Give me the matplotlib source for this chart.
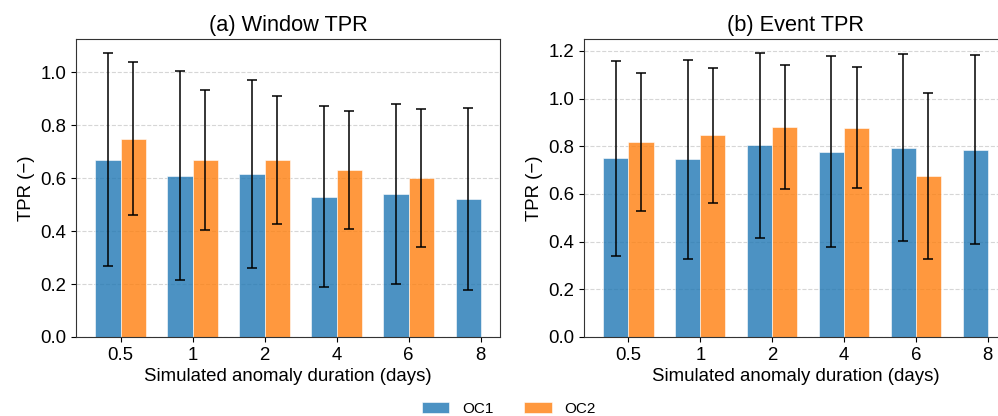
import numpy as np
import matplotlib
matplotlib.use("Agg")
import matplotlib.pyplot as plt

plt.rcParams["font.family"] = ["Liberation Sans", "DejaVu Sans"]

durations = ["0.5", "1", "2", "4", "6", "8"]

# (a) Window TPR: mean and std
win_oc1 = [0.669, 0.609, 0.615, 0.530, 0.540, 0.522]
win_oc1_sd = [0.402, 0.394, 0.355, 0.343, 0.340, 0.343]
win_oc2 = [0.748, 0.669, 0.669, 0.632, 0.600, np.nan]
win_oc2_sd = [0.289, 0.265, 0.242, 0.223, 0.261, np.nan]

# (b) Event TPR
evt_oc1 = [0.750, 0.745, 0.803, 0.777, 0.794, 0.786]
evt_oc1_sd = [0.409, 0.417, 0.386, 0.401, 0.392, 0.395]
evt_oc2 = [0.818, 0.845, 0.880, 0.878, 0.676, np.nan]
evt_oc2_sd = [0.290, 0.282, 0.259, 0.254, 0.349, np.nan]

c1 = "#1f77b4"
c2 = "#ff7f0e"
width = 0.35

fig = plt.figure(figsize=(9.98, 4.16), dpi=100)
ax_a = fig.add_axes([0.0762, 0.19, 0.4248, 0.7156])
ax_b = fig.add_axes([0.5852, 0.19, 0.4238, 0.7156])


def draw(ax, m1, s1, m2, s2, title):
    x = np.arange(len(durations))
    err = dict(ecolor="black", elinewidth=1.1, capsize=3.5, capthick=1.1)
    ax.bar(x - width / 2, m1, width, yerr=s1, color=c1, alpha=0.8,
           edgecolor="white", linewidth=0.5, error_kw=err, label="OC1")
    ax.bar(x + width / 2, m2, width, yerr=s2, color=c2, alpha=0.8,
           edgecolor="white", linewidth=0.5, error_kw=err, label="OC2")
    ax.set_xticks(x)
    ax.set_xticklabels(durations)
    ax.set_xlabel("Simulated anomaly duration (days)", fontsize=13.4, labelpad=3)
    ax.set_ylabel("TPR (\u2212)", fontsize=13.4)
    ax.set_title(title, fontsize=15.7, pad=6)
    ax.tick_params(labelsize=13.4)
    ax.grid(axis="y", linestyle="--", color="#cccccc", alpha=0.8, linewidth=0.8)
    ax.set_axisbelow(True)
    for s in ax.spines.values():
        s.set_color("#333333")


draw(ax_a, win_oc1, win_oc1_sd, win_oc2, win_oc2_sd, "(a) Window TPR")
draw(ax_b, evt_oc1, evt_oc1_sd, evt_oc2, evt_oc2_sd, "(b) Event TPR")

handles, labels = ax_a.get_legend_handles_labels()
fig.legend(handles, labels, loc="center", bbox_to_anchor=(0.51, 0.017),
           ncol=2, frameon=False, fontsize=11, columnspacing=2.0,
           handlelength=1.8, handletextpad=0.85)

fig.savefig("out.png", dpi=100)
